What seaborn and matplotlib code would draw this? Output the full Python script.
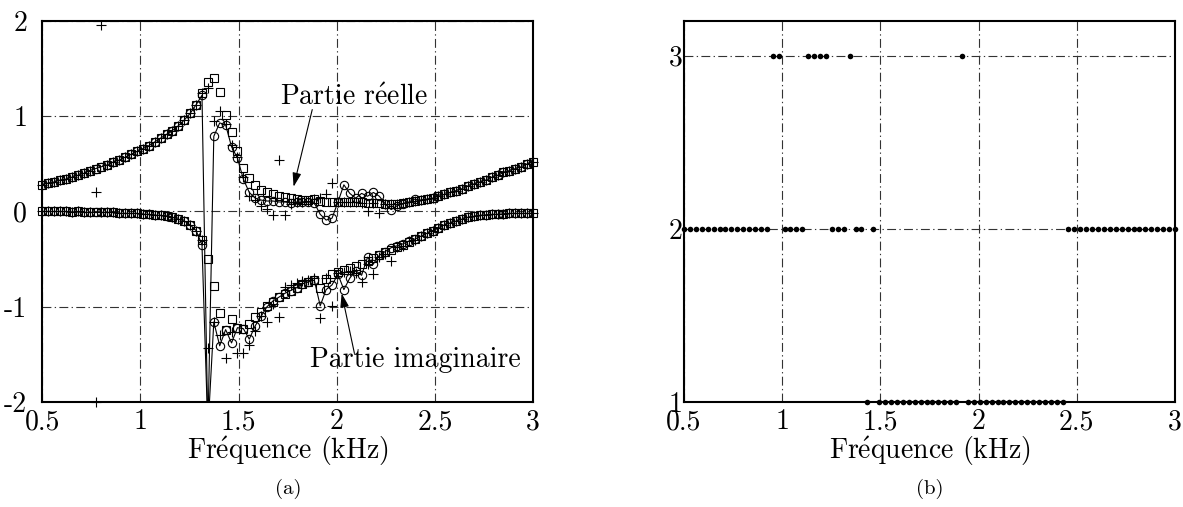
import numpy as np
import matplotlib
matplotlib.use("Agg")
import matplotlib.pyplot as plt
import seaborn as sns

# Frequency grid (kHz)
freq = np.linspace(0.5, 3.0, 84)

# Reference solution (squares)
re_sq = [0.28, 0.30, 0.31, 0.33, 0.34, 0.36, 0.38, 0.40, 0.43, 0.45,
         0.47, 0.49, 0.52, 0.54, 0.57, 0.60, 0.63, 0.66, 0.69, 0.73,
         0.77, 0.81, 0.85, 0.90, 0.96, 1.03, 1.12, 1.24, 1.36, 1.40,
         1.25, 1.01, 0.83, 0.64, 0.46, 0.35, 0.28, 0.23, 0.20, 0.18,
         0.16, 0.15, 0.14, 0.13, 0.12, 0.12, 0.13, 0.11, 0.10, 0.10,
         0.10, 0.10, 0.10, 0.10, 0.10, 0.09, 0.09, 0.09, 0.08, 0.08,
         0.08, 0.09, 0.10, 0.11, 0.12, 0.13, 0.14, 0.16, 0.18, 0.20,
         0.22, 0.24, 0.27, 0.29, 0.31, 0.33, 0.36, 0.38, 0.41, 0.43,
         0.45, 0.47, 0.50, 0.52]
im_sq = [0.00, 0.00, 0.00, 0.00, 0.00, -0.01, 0.00, -0.01, -0.01, -0.01,
         -0.01, -0.01, -0.01, -0.02, -0.02, -0.02, -0.02, -0.03, -0.03, -0.04,
         -0.04, -0.05, -0.06, -0.08, -0.10, -0.14, -0.20, -0.30, -0.50, -0.78,
         -1.07, -1.24, -1.13, -1.22, -1.23, -1.18, -1.11, -1.05, -0.99, -0.95,
         -0.90, -0.87, -0.83, -0.80, -0.76, -0.74, -0.72, -0.80, -0.71, -0.66,
         -0.63, -0.61, -0.59, -0.57, -0.55, -0.52, -0.49, -0.46, -0.43, -0.40,
         -0.37, -0.35, -0.32, -0.29, -0.26, -0.23, -0.20, -0.17, -0.14, -0.12,
         -0.10, -0.08, -0.06, -0.05, -0.04, -0.035, -0.03, -0.03, -0.025, -0.02,
         -0.02, -0.02, -0.02, -0.02]

# Method with circles (connected by a thin line)
re_ci = [0.28, 0.30, 0.31, 0.33, 0.34, 0.36, 0.38, 0.40, 0.43, 0.45,
         0.47, 0.49, 0.52, 0.54, 0.57, 0.60, 0.63, 0.66, 0.69, 0.73,
         0.77, 0.81, 0.85, 0.90, 0.96, 1.03, 1.12, 1.22, -2.3, 0.79,
         0.93, 0.91, 0.68, 0.56, 0.34, 0.20, 0.14, 0.12, 0.11, 0.11,
         0.10, 0.10, 0.09, 0.10, 0.10, 0.10, 0.09, -0.03, -0.09, -0.07,
         0.10, 0.28, 0.19, 0.14, 0.19, 0.16, 0.20, 0.16, 0.08, 0.02,
         0.06, 0.08, 0.10, 0.13, 0.12, 0.13, 0.14, 0.16, 0.18, 0.20,
         0.22, 0.24, 0.27, 0.29, 0.31, 0.33, 0.36, 0.38, 0.41, 0.43,
         0.45, 0.47, 0.50, 0.52]
im_ci = [0.00, 0.00, 0.00, 0.00, 0.00, -0.01, 0.00, -0.01, -0.01, -0.01,
         -0.01, -0.01, -0.01, -0.02, -0.02, -0.02, -0.02, -0.03, -0.03, -0.04,
         -0.04, -0.05, -0.06, -0.08, -0.10, -0.14, -0.20, -0.35, -2.3, -1.16,
         -1.41, -1.24, -1.38, -1.22, -1.23, -1.34, -1.20, -1.10, -1.00, -0.94,
         -0.90, -0.86, -0.83, -0.80, -0.76, -0.74, -0.72, -0.99, -0.82, -0.77,
         -0.66, -0.82, -0.70, -0.62, -0.67, -0.48, -0.55, -0.46, -0.42, -0.38,
         -0.36, -0.34, -0.31, -0.29, -0.26, -0.23, -0.20, -0.17, -0.14, -0.12,
         -0.10, -0.08, -0.06, -0.05, -0.04, -0.035, -0.03, -0.03, -0.025, -0.02,
         -0.02, -0.02, -0.02, -0.02]

# Method with plus markers
re_pl = [0.28, 0.30, 0.31, 0.33, 0.34, 0.36, 0.38, 0.40, 0.43, 0.20,
         1.96, 0.49, 0.52, 0.54, 0.57, 0.60, 0.63, 0.66, 0.69, 0.73,
         0.77, 0.81, 0.85, 0.90, 0.96, 1.03, 1.12, 1.24, 1.30, 0.95,
         1.05, 0.92, 0.70, 0.57, 0.36, 0.16, 0.12, 0.06, 0.03, -0.04,
         0.54, -0.04, 0.08, 0.10, 0.10, 0.11, 0.13, 0.14, 0.18, 0.30,
         0.10, 0.10, 0.10, 0.10, 0.09, 0.01, 0.09, -0.02, 0.08, 0.08,
         0.08, 0.09, 0.10, 0.11, 0.12, 0.13, 0.14, 0.16, 0.18, 0.20,
         0.22, 0.24, 0.27, 0.29, 0.31, 0.33, 0.36, 0.38, 0.41, 0.43,
         0.45, 0.47, 0.50, 0.52]
im_pl = [0.00, 0.00, 0.00, 0.00, 0.00, -0.01, 0.00, -0.01, -0.01, -2.00,
         -0.01, -0.01, -0.01, -0.02, -0.02, -0.02, -0.02, -0.03, -0.03, -0.04,
         -0.04, -0.05, -0.06, -0.08, -0.10, -0.14, -0.20, -0.30, -1.43, -1.16,
         -1.30, -1.54, -1.26, -1.49, -1.49, -1.40, -1.25, -1.10, -1.16, -0.97,
         -1.11, -0.79, -0.77, -0.75, -0.73, -0.72, -0.70, -1.12, -0.70, -0.99,
         -0.65, -0.64, -0.62, -0.65, -0.74, -0.55, -0.66, -0.48, -0.45, -0.52,
         -0.37, -0.36, -0.31, -0.30, -0.26, -0.23, -0.20, -0.17, -0.14, -0.12,
         -0.10, -0.08, -0.06, -0.05, -0.04, -0.035, -0.03, -0.03, -0.025, -0.02,
         -0.02, -0.02, -0.02, -0.02]

# Panel (b): selected index per frequency
choice = ([2] * 15 + [3] * 2 + [2] * 4 + [3] * 4 + [2] * 3 + [3] + [2] * 2 +
          [1] + [2] + [1] * 14 + [3] + [1] * 17 + [2] * 19)

xticks = [0.5, 1, 1.5, 2, 2.5, 3]
xtick_labels = ["0.5", "1", "1.5", "2", "2.5", "3"]
yticks_a = [-2, -1, 0, 1, 2]
ytick_labels_a = ["-2", "-1", "0", "1", "2"]
yticks_b = [1, 2, 3]
ytick_labels_b = ["1", "2", "3"]

sns.set_theme(style="white")
plt.rcParams.update({
    "font.family": ["cmr10", "DejaVu Serif"],
    "mathtext.fontset": "cm",
    "axes.formatter.use_mathtext": True,
    "axes.edgecolor": "black",
    "axes.linewidth": 1.5,
    "xtick.color": "black",
    "ytick.color": "black",
    "axes.labelcolor": "black",
    "text.color": "black",
})

FS = 20
grid_kw = dict(color="0.2", linewidth=0.8, dashes=(8, 3, 1.2, 3))

fig = plt.figure(figsize=(11.83, 5.07), dpi=100)
ax1 = fig.add_axes([0.0358, 0.2071, 0.4148, 0.7515])
ax2 = fig.add_axes([0.5782, 0.2071, 0.4150, 0.7515])

mk = dict(markerfacecolor="none", markeredgecolor="black", markeredgewidth=0.8)

for ys in (re_sq, im_sq):
    sns.lineplot(x=freq, y=ys, ax=ax1, sort=False, estimator=None,
                 linestyle="", marker="s", markersize=5.2, **mk, zorder=3,
                 clip_on=False)
for ys in (re_ci, im_ci):
    sns.lineplot(x=freq, y=ys, ax=ax1, sort=False, estimator=None,
                 color="black", linewidth=0.8, marker="o", markersize=6, **mk,
                 zorder=4)
for ys in (re_pl, im_pl):
    sns.lineplot(x=freq, y=ys, ax=ax1, sort=False, estimator=None,
                 linestyle="", marker="+", markersize=7, color="black",
                 markeredgecolor="black", markeredgewidth=0.8, zorder=5,
                 clip_on=False)

ax1.set_xlim(0.5, 3)
ax1.set_ylim(-2, 2)
ax1.set_xticks(xticks)
ax1.set_xticklabels(xtick_labels)
ax1.set_yticks(yticks_a)
ax1.set_yticklabels(ytick_labels_a)
ax1.grid(True, **grid_kw)
ax1.set_axisbelow(True)
ax1.tick_params(axis="both", length=0, labelsize=FS)
ax1.tick_params(axis="x", pad=5)
ax1.tick_params(axis="y", pad=11)
ax1.set_xlabel(r"Fr$\acute{\mathrm{e}}$quence (kHz)", fontsize=FS, labelpad=-1)
ax1.set_ylabel("")

ax1.text(2.088, 1.113, r"Partie r$\acute{\mathrm{e}}$elle", fontsize=FS,
         ha="center", va="baseline")
ax1.annotate("", xy=(1.78, 0.26), xytext=(1.875, 1.07),
             arrowprops=dict(arrowstyle="-|>,head_length=0.7,head_width=0.22",
                             color="black", lw=0.8, shrinkA=0, shrinkB=0))
ax1.text(2.40, -1.63, "Partie imaginaire", fontsize=FS,
         ha="center", va="baseline")
ax1.annotate("", xy=(2.025, -0.86), xytext=(2.09, -1.49),
             arrowprops=dict(arrowstyle="-|>,head_length=0.7,head_width=0.22",
                             color="black", lw=0.8, shrinkA=0, shrinkB=0))

sns.scatterplot(x=freq, y=choice, ax=ax2, color="black", s=16, linewidth=0,
                clip_on=False, zorder=5)
ax2.set_xlim(0.5, 3)
ax2.set_ylim(1, 3.2)
ax2.set_xticks(xticks)
ax2.set_xticklabels(xtick_labels)
ax2.set_yticks(yticks_b)
ax2.set_yticklabels(ytick_labels_b)
ax2.grid(True, **grid_kw)
ax2.set_axisbelow(True)
ax2.tick_params(axis="both", length=0, labelsize=FS)
ax2.tick_params(axis="x", pad=5)
ax2.tick_params(axis="y", pad=1)
ax2.set_xlabel(r"Fr$\acute{\mathrm{e}}$quence (kHz)", fontsize=FS, labelpad=-1)
ax2.set_ylabel("")

fig.text(0.2435, 0.035, "(a)", fontsize=15, ha="center", va="center")
fig.text(0.786, 0.035, "(b)", fontsize=15, ha="center", va="center")

fig.savefig("out.png", dpi=100)
